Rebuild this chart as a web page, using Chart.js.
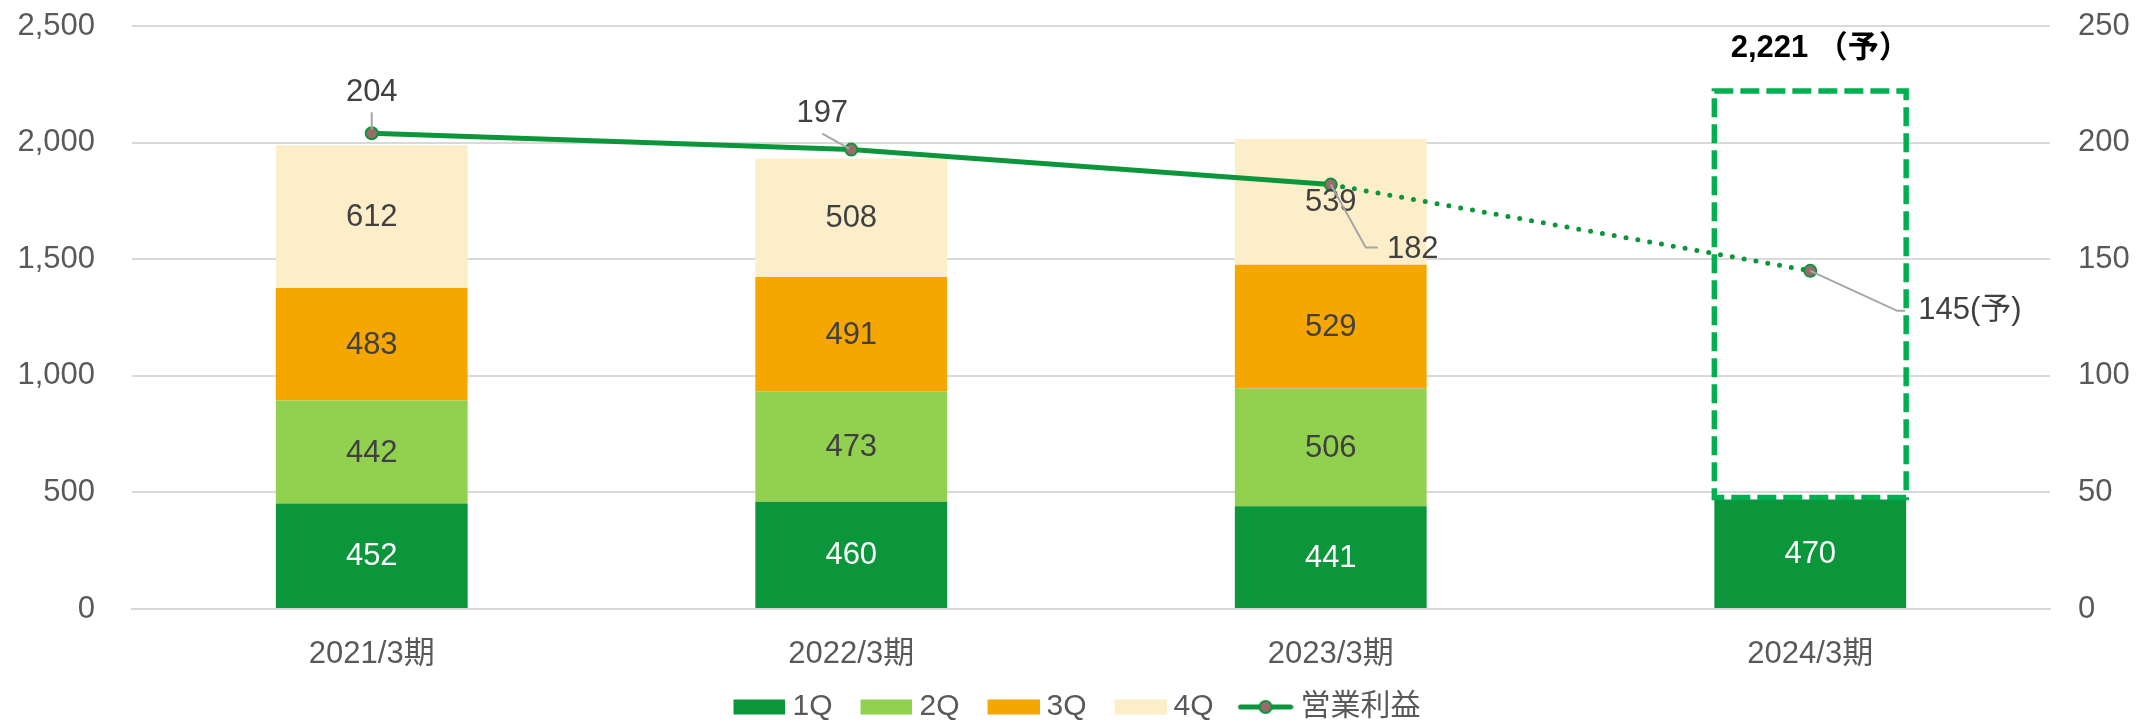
<!DOCTYPE html>
<html>
<head>
<meta charset="utf-8">
<script src="https://cdn.jsdelivr.net/npm/chart.js@4.4.1/dist/chart.umd.min.js"></script>
<style>
  html, body { margin: 0; padding: 0; background: #fff; }
  #wrap { width: 2136px; height: 725px; }
</style>
</head>
<body>
<div id="wrap"><canvas id="chart"></canvas></div>
<script>
// Chart data
const periods = ['2021/3期', '2022/3期', '2023/3期', '2024/3期'];
const q1 = [452, 460, 441, 470];
const q2 = [442, 473, 506, null];
const q3 = [483, 491, 529, null];
const q4 = [612, 508, 539, null];
const operatingProfit = [204, 197, 182, 145];
const profitLabels = ['204', '197', '182', '145(予)'];
const forecastTotal = [null, null, null, 2221];
const forecastLabel = '2,221 （予）';
const salesTicks = [0, 500, 1000, 1500, 2000, 2500];
const profitTicks = [0, 50, 100, 150, 200, 250];

const FONT = "'Liberation Sans', Arial, 'Noto Sans CJK JP', sans-serif";
const GREEN = '#0b963b';
const quarterColors = ['#0b963b', '#92d050', '#f5a700', '#fdeeca'];

// legend glyphs: content sits at the right end so the gap before the text stays small
const LEGEND_BOX = 62;
function glyphCanvas(draw) {
    const c = document.createElement('canvas');
    c.width = LEGEND_BOX + 16; c.height = 18;
    const g = c.getContext('2d');
    g.translate(c.width - 56, 0);
    draw(g);
    return c;
}
function boxGlyph(color) {
    return glyphCanvas(g => {
        g.fillStyle = color;
        g.fillRect(4, 1.5, 52, 15);
    });
}
function lineGlyph() {
    return glyphCanvas(g => {
        g.strokeStyle = GREEN;
        g.lineWidth = 5;
        g.lineCap = 'round';
        g.beginPath(); g.moveTo(3, 9); g.lineTo(53, 9); g.stroke();
        g.beginPath(); g.arc(28, 9, 6, 0, Math.PI * 2);
        g.fillStyle = '#9b6b6b'; g.fill();
        g.lineWidth = 2; g.stroke();
    });
}
const glyphs = [boxGlyph(quarterColors[0]), boxGlyph(quarterColors[1]), boxGlyph(quarterColors[2]), boxGlyph(quarterColors[3]), lineGlyph()];

// offsets of the profit labels from their points
const profitLabelPos = [
    { dx: 0, dy: -41, align: 'center', leader: [[0, -21], [0, -4]] },
    { dx: -29, dy: -36, align: 'center', leader: [[-29, -16], [-2, -1]] },
    { dx: 82, dy: 65, align: 'center', leader: [[0, 0], [35, 63], [47, 63]] },
    { dx: 108, dy: 40, align: 'left', leader: [[0, 0], [87, 40], [95, 40]] }
];

const labelPlugin = {
    id: 'valueLabels',
    afterDatasetsDraw(chart) {
        const ctx = chart.ctx;
        const yScale = chart.scales.y;
        ctx.save();
        ctx.font = `31px ${FONT}`;
        ctx.textAlign = 'center';
        ctx.textBaseline = 'middle';

        // stacked bar values
        for (let di = 0; di < 4; di++) {
            const meta = chart.getDatasetMeta(di);
            meta.data.forEach((bar, i) => {
                const v = chart.data.datasets[di].data[i];
                if (v == null) return;
                const p = bar.getProps(['x', 'y', 'base'], true);
                ctx.fillStyle = di === 0 ? '#ffffff' : '#404040';
                ctx.fillText(String(v), p.x, (p.y + p.base) / 2 + 1);
            });
        }

        // forecast dashed frame
        const q1Meta = chart.getDatasetMeta(0);
        forecastTotal.forEach((total, i) => {
            if (total == null) return;
            const bar = q1Meta.data[i].getProps(['x', 'width'], true);
            const top = yScale.getPixelForValue(total);
            const bottom = yScale.getPixelForValue(q1[i]) - 2;
            ctx.save();
            ctx.strokeStyle = '#00b050';
            ctx.lineWidth = 5.5;
            ctx.setLineDash([19, 7]);
            ctx.strokeRect(bar.x - bar.width / 2, top, bar.width, bottom - top);
            ctx.restore();
            ctx.fillStyle = '#000000';
            ctx.font = `bold 31px ${FONT}`;
            ctx.fillText(forecastLabel, bar.x + 10, top - 43);
            ctx.font = `31px ${FONT}`;
        });

        // profit labels with leader lines
        const lineMeta = chart.getDatasetMeta(4);
        lineMeta.data.forEach((pt, i) => {
            const pos = profitLabelPos[i];
            const p = pt.getProps(['x', 'y'], true);
            ctx.strokeStyle = '#a6a6a6';
            ctx.lineWidth = 2;
            ctx.beginPath();
            pos.leader.forEach(([lx, ly], k) => {
                if (k === 0) ctx.moveTo(p.x + lx, p.y + ly);
                else ctx.lineTo(p.x + lx, p.y + ly);
            });
            ctx.stroke();
            ctx.fillStyle = '#404040';
            ctx.textAlign = pos.align;
            ctx.fillText(profitLabels[i], p.x + pos.dx, p.y + pos.dy);
        });
        ctx.restore();
    }
};

// keep the side axes from pushing the plot area down
function fitSide(width) {
    return s => {
        s.width = width;
        s.paddingTop = 26;
        s.paddingBottom = 0;
    };
}

const ctx = document.getElementById('chart').getContext('2d');
new Chart(ctx, {
    type: 'bar',
    data: {
        labels: periods,
        datasets: [
            { label: '1Q', data: q1, backgroundColor: quarterColors[0], stack: 's' },
            { label: '2Q', data: q2, backgroundColor: quarterColors[1], stack: 's' },
            { label: '3Q', data: q3, backgroundColor: quarterColors[2], stack: 's' },
            { label: '4Q', data: q4, backgroundColor: quarterColors[3], stack: 's' },
            {
                label: '営業利益',
                type: 'line',
                data: operatingProfit,
                yAxisID: 'y1',
                order: -1,
                borderColor: GREEN,
                borderWidth: 5,
                borderCapStyle: 'round',
                pointRadius: 6,
                pointBorderWidth: 2,
                pointBackgroundColor: '#9b6b6b',
                pointBorderColor: GREEN,
                segment: {
                    borderDash: c => c.p1DataIndex === 3 ? [0, 12] : undefined
                }
            }
        ]
    },
    options: {
        responsive: true,
        maintainAspectRatio: false,
        animation: false,
        layout: { padding: { top: 0, bottom: -7, left: 0, right: 0 } },
        datasets: { bar: { categoryPercentage: 0.8, barPercentage: 0.5 } },
        scales: {
            x: {
                stacked: true,
                grid: { display: false },
                border: { display: true, color: '#d9d9d9', width: 2 },
                afterFit: s => { s.height = 73; },
                ticks: { color: '#595959', font: { size: 31, family: FONT }, padding: 19 }
            },
            y: {
                stacked: true,
                min: 0,
                max: 2500,
                afterBuildTicks: s => { s.ticks = salesTicks.map(v => ({ value: v })); },
                afterFit: fitSide(132),
                grid: { color: '#d9d9d9', lineWidth: 2, drawTicks: false },
                border: { display: false },
                ticks: {
                    color: '#595959',
                    font: { size: 31, family: FONT },
                    padding: 37,
                    callback: v => v.toLocaleString('en-US')
                }
            },
            y1: {
                position: 'right',
                min: 0,
                max: 250,
                afterBuildTicks: s => { s.ticks = profitTicks.map(v => ({ value: v })); },
                afterFit: fitSide(86),
                grid: { display: false, drawTicks: false },
                border: { display: false },
                ticks: { color: '#595959', font: { size: 31, family: FONT }, padding: 28 }
            }
        },
        plugins: {
            tooltip: { enabled: false },
            legend: {
                position: 'bottom',
                labels: {
                    usePointStyle: true,
                    pointStyleWidth: LEGEND_BOX,
                    boxHeight: 15,
                    padding: 10,
                    color: '#595959',
                    font: { size: 30, family: FONT },
                    generateLabels(chart) {
                        const items = Chart.defaults.plugins.legend.labels.generateLabels(chart);
                        items.sort((a, b) => a.datasetIndex - b.datasetIndex);
                        items.forEach(it => { it.pointStyle = glyphs[it.datasetIndex]; });
                        return items;
                    }
                }
            }
        }
    },
    plugins: [labelPlugin]
});
</script>
</body>
</html>
